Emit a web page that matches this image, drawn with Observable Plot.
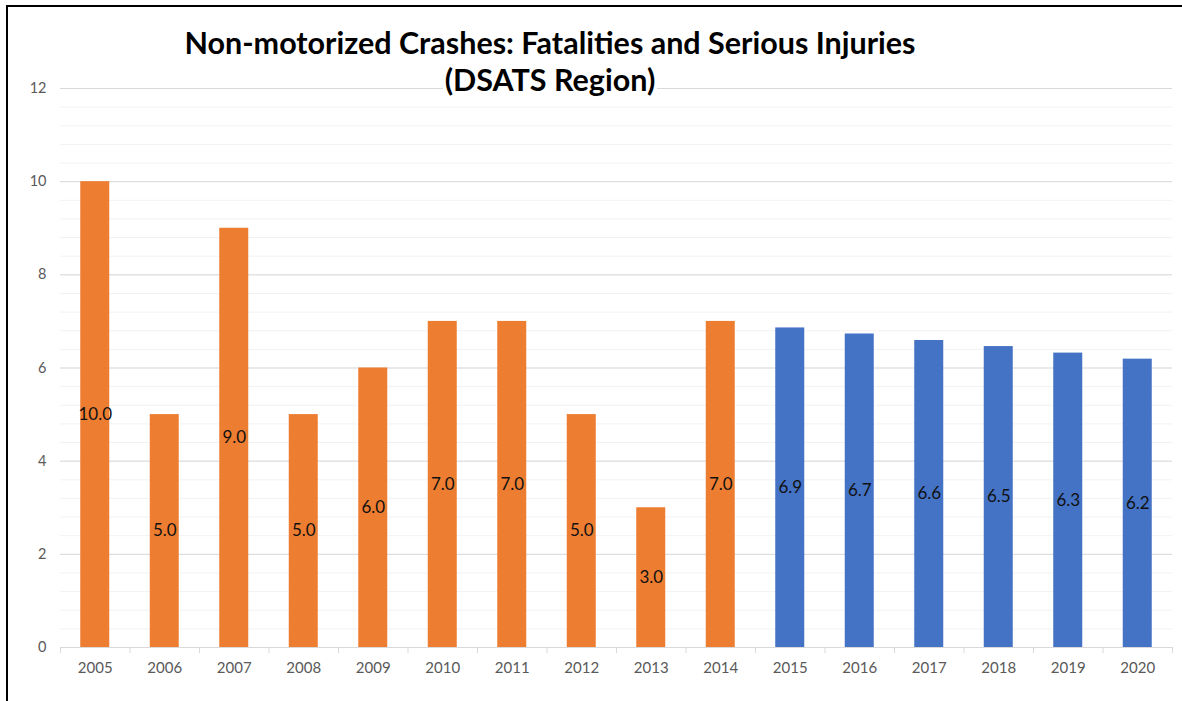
<!DOCTYPE html>
<html>
<head>
<meta charset="utf-8">
<script src="https://cdn.jsdelivr.net/npm/d3@7"></script>
<script src="https://cdn.jsdelivr.net/npm/@observablehq/plot@0.6"></script>
<style>
  html, body { margin: 0; padding: 0; background: #fff; }
  #wrap { position: relative; width: 1182px; height: 701px; overflow: hidden; }
  #border { position: absolute; left: 6px; top: 5px; right: -10px; bottom: -10px;
            border-top: 2px solid #000; border-left: 2px solid #000; pointer-events: none; }
  #title { position: absolute; left: 0; width: 1100px; top: 24px; text-align: center;
           font-family: Lato, "Open Sans", sans-serif; font-weight: bold; font-size: 30.5px;
           line-height: 37px; color: #000; }
  #title span { background: #fff; padding: 0 2px; }
</style>
</head>
<body>
<div id="wrap">
  <div id="chart"></div>
  <div id="border"></div>
  <div id="title"><span>Non-motorized Crashes: Fatalities and Serious Injuries</span><br><span>(DSATS Region)</span></div>
</div>
<script>
const years = ["2005","2006","2007","2008","2009","2010","2011","2012","2013","2014","2015","2016","2017","2018","2019","2020"];
const values = [10, 5, 9, 5, 6, 7, 7, 5, 3, 7, 6.86, 6.73, 6.59, 6.46, 6.32, 6.19];
const kinds = ["Actual","Actual","Actual","Actual","Actual","Actual","Actual","Actual","Actual","Actual",
               "Projected","Projected","Projected","Projected","Projected","Projected"];
const yTicks = [0, 2, 4, 6, 8, 10, 12];
const minorTicks = d3.range(0, 12.01, 0.4).map(v => +v.toFixed(1));

const data = years.map((y, i) => ({year: y, value: values[i], kind: kinds[i]}));

const W = 1182, H = 701, ML = 60, MR = 10, MT = 88, MB = 54;
const bw = (W - ML - MR) / years.length;
const inset = (bw - 29) / 2;

const plot = Plot.plot({
  width: W, height: H,
  marginLeft: ML, marginRight: MR, marginTop: MT, marginBottom: MB,
  style: {fontFamily: "Lato, 'Open Sans', sans-serif", background: "transparent"},
  x: {type: "band", domain: years, padding: 0, round: false, label: null},
  y: {domain: [0, 12], label: null},
  color: {domain: ["Actual", "Projected"], range: ["#ED7D31", "#4472C4"]},
  marks: [
    Plot.ruleY(minorTicks, {stroke: "#f2f2f2", strokeWidth: 1}),
    Plot.ruleY(yTicks, {stroke: "#d9d9d9", strokeWidth: 1}),
    Plot.ruleX(years, {x: d => d, dx: -bw / 2, y1: 0, y2: -0.13, stroke: "#d9d9d9"}),
    Plot.ruleX(years.slice(-1), {x: d => d, dx: bw / 2, y1: 0, y2: -0.13, stroke: "#d9d9d9"}),
    Plot.barY(data, {x: "year", y: "value", fill: "kind", insetLeft: inset, insetRight: inset}),
    Plot.text(data, {x: "year", y: d => d.value / 2, text: d => d.value.toFixed(1),
                     fontSize: 17, fill: "#111"}),
    Plot.axisY(yTicks, {tickSize: 0, tickPadding: 14, fontSize: 14.5, fill: "#595959"}),
    Plot.axisX({tickSize: 0, tickPadding: 15, fontSize: 15, fill: "#595959"})
  ]
});
document.getElementById("chart").appendChild(plot);
</script>
</body>
</html>
